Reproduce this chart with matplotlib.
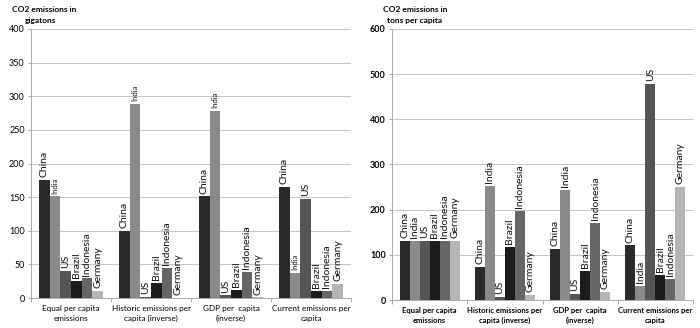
import numpy as np
import matplotlib
matplotlib.use("Agg")
import matplotlib.pyplot as plt

plt.rcParams['font.family'] = ['Lato', 'DejaVu Sans']

countries = ['China', 'India', 'US', 'Brazil', 'Indonesia', 'Germany']
categories = ['Equal per capita\nemissions', 'Historic emissions per\ncapita (inverse)',
              'GDP per  capita\n(inverse)', 'Current emissions per\ncapita']
colors = ['#2a2a2a', '#8a8a8a', '#555555', '#1c1c1c', '#666666', '#b5b5b5']

# CO2 emissions in gigatons (rows = countries, cols = categories)
gigatons = {
    'China':     [176, 100, 151, 165],
    'India':     [151, 289, 278, 37],
    'US':        [40, 2, 4, 147],
    'Brazil':    [25, 22, 12, 10.5],
    'Indonesia': [29, 45, 38.5, 10.5],
    'Germany':   [10.5, 0.5, 1, 21],
}
# CO2 emissions in tons per capita
tons = {
    'China':     [131, 74, 113, 121],
    'India':     [131, 252, 243, 31],
    'US':        [131, 7, 13, 479],
    'Brazil':    [131, 118, 64, 55],
    'Indonesia': [131, 197, 171, 47],
    'Germany':   [131, 11, 18, 250],
}

fig = plt.figure(figsize=(7, 3.28), dpi=100)


def draw(ax, data, ymax, step, bold, small_india):
    x = np.arange(len(categories))
    w = 0.8 / len(countries)
    for i, c in enumerate(countries):
        pos = x - 0.4 + w * (i + 0.5)
        ax.bar(pos, data[c], width=w, color=colors[i], zorder=3)
        for px, v in zip(pos, data[c]):
            fs = 7.5
            if small_india and c == 'India':
                fs = 5.5
            ax.annotate(c, (px, v), xytext=(0, 2), textcoords='offset points',
                        rotation=90, ha='center', va='bottom', fontsize=fs,
                        color='#111111', zorder=4)
    fw = 'bold' if bold else 'normal'
    ax.set_xlim(-0.5, len(categories) - 0.5)
    ax.set_ylim(0, ymax)
    ax.set_yticks(np.arange(0, ymax + 1, step))
    ax.set_yticklabels([str(v) for v in range(0, ymax + 1, step)], fontsize=6.5, fontweight=fw)
    ax.set_xticks(x)
    ax.set_xticklabels(categories, fontsize=5.5 if bold else 5.9, fontweight=fw, linespacing=1.5)
    ax.set_xticks(np.arange(-0.5, len(categories), 1), minor=True)
    ax.tick_params(axis='x', which='major', length=0, pad=5)
    ax.tick_params(axis='x', which='minor', length=3, color='#999999', width=0.6)
    ax.tick_params(axis='y', length=2.5, color='#999999', width=0.6, pad=2)
    ax.grid(axis='y', color='#c4c4c4', linewidth=0.7, zorder=0)
    for s in ['top', 'right']:
        ax.spines[s].set_visible(False)
    for s in ['left', 'bottom']:
        ax.spines[s].set_color('#aaaaaa')
        ax.spines[s].set_linewidth(0.7)


ax1 = fig.add_axes([31 / 700, 30 / 328, 320 / 700, 269 / 328])
draw(ax1, gigatons, 400, 50, False, True)
fig.text(12 / 700, 1 - 9 / 328, 'CO2 emissions in', fontsize=6, fontweight='bold', va='center')
fig.text(25 / 700, 1 - 20 / 328, 'gigatons', fontsize=6, fontweight='bold', va='center')

ax2 = fig.add_axes([392 / 700, 28 / 328, 301 / 700, 271 / 328])
draw(ax2, tons, 600, 100, True, False)
fig.text(383 / 700, 1 - 10 / 328, 'CO2 emissions in', fontsize=6, fontweight='bold', va='center')
fig.text(387 / 700, 1 - 21 / 328, 'tons per capita', fontsize=6, fontweight='bold', va='center')

fig.savefig('out.png', dpi=100)
